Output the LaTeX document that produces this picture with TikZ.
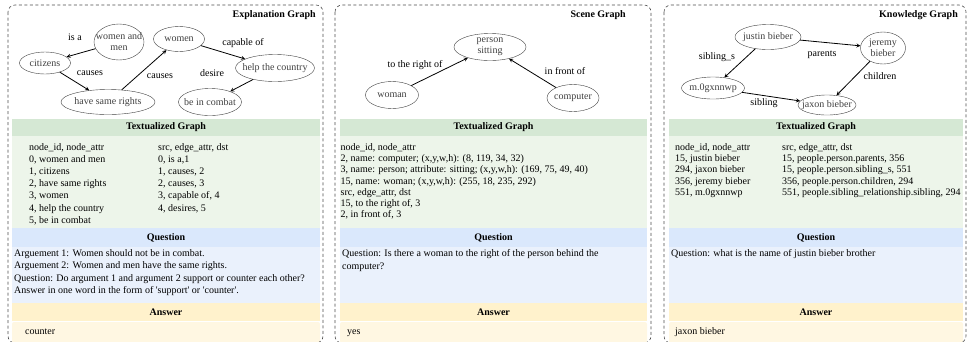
\documentclass[tikz,border=0pt]{standalone}
\usepackage{fontspec}
\setmainfont{Liberation Serif}
\usetikzlibrary{shapes.geometric, arrows, positioning, calc}
\definecolor{hdgreen}{HTML}{D5E8D4}
\definecolor{bdgreen}{HTML}{EDF5EA}
\definecolor{hdblue}{HTML}{DAE8FC}
\definecolor{bdblue}{HTML}{EAF1FC}
\definecolor{hdyellow}{HTML}{FFF2CC}
\definecolor{bdyellow}{HTML}{FFF7E2}
\newcommand{\tbox}[1]{\makebox[0pt]{#1}}
\tikzstyle{entity} = [ellipse, draw=black!75, inner sep=0pt, text=black!75, align=center, font=\fontsize{10}{11}\selectfont]
\tikzstyle{lbl} = [inner sep=0pt, font=\fontsize{10}{12}\selectfont]
\tikzstyle{title} = [anchor=east, inner sep=0pt, font=\bfseries\fontsize{10}{12}\selectfont]
\tikzstyle{band} = [draw=none, inner sep=0pt, font=\bfseries\fontsize{10}{12}\selectfont]
\tikzstyle{panel} = [draw=black!70, dash pattern=on 3pt off 2.5pt, rounded corners=7pt, line width=0.6pt]
\tikzstyle{body} = [anchor=north west, inner sep=0pt, align=left, font=\fontsize{10}{11.2}\selectfont]
\tikzstyle{reply} = [anchor=base west, inner sep=0pt, font=\fontsize{10}{12}\selectfont]
\tikzstyle{arrow} = [thick,->,>=stealth]

\begin{document}
\begin{tikzpicture}[x=1pt, y=-1pt]
\useasboundingbox (0,0) rectangle (969,341);
% Explanation Graph
\node (tg1) [band, fill=hdgreen, minimum width=308, minimum height=17] at (166,127.5) {Textualized Graph};
\node (tb1) [band, fill=bdgreen, minimum width=308, minimum height=92] at (166,182) {};
\node (qh1) [band, fill=hdblue, minimum width=308, minimum height=19] at (166,237.5) {Question};
\node (qb1) [band, fill=bdblue, minimum width=308, minimum height=56] at (166,275) {};
\node (ah1) [band, fill=hdyellow, minimum width=308, minimum height=18] at (166,312) {Answer};
\node (ab1) [band, fill=bdyellow, minimum width=308, minimum height=21, rounded corners=2pt] at (166,332.5) {};
\draw [panel] (8,5) rectangle (323,343);
\node (t1) [title] at (316,15) {Explanation Graph};
\node (wm) [entity, minimum width=50, minimum height=36] at (119,42) {\tbox{women and}\\\tbox{men}};
\node (cit) [entity, minimum width=51, minimum height=22] at (45,63) {\tbox{citizens}};
\node (hsr) [entity, minimum width=94, minimum height=25] at (108,102) {\tbox{have same rights}};
\node (wo) [entity, minimum width=51, minimum height=25] at (179,39) {\tbox{women}};
\node (htc) [entity, minimum width=79, minimum height=27] at (275,68) {\tbox{help the country}};
\node (bic) [entity, minimum width=63, minimum height=27] at (210,102) {\tbox{be in combat}};
\node (l1) [lbl] at (75,37) {is a};
\node (l2) [lbl] at (90,73) {causes};
\node (l3) [lbl] at (160,76) {causes};
\node (l4) [lbl] at (243,43) {capable of};
\node (l5) [lbl] at (212,73) {desire};
\draw [arrow] (wm) -- (cit);
\draw [arrow] (cit) -- (hsr);
\draw [arrow] (hsr) -- (wo);
\draw [arrow] (wo) -- (htc);
\draw [arrow] (htc) -- (bic);
\node (te1l) [body, font=\fontsize{10}{12.1}\selectfont] at (29,143.4) {node\_id, node\_attr\\0, women and men\\1, citizens\\2, have same rights\\3, women\\4, help the country\\5, be in combat};
\node (te1r) [body, font=\fontsize{10}{12.1}\selectfont] at (158,143.4) {src, edge\_attr, dst\\0, is a,1\\1, causes, 2\\2, causes, 3\\3, capable of, 4\\4, desires, 5};
\node (qt1) [body, font=\fontsize{10}{12.3}\selectfont] at (14,249.5) {Arguement 1: Women should not be in combat.\\Arguement 2: Women and men have the same rights.\\Question: Do argument 1 and argument 2 support or counter each other?\\Answer in one word in the form of \textquotesingle support\textquotesingle{} or \textquotesingle counter\textquotesingle.};
\node (an1) [reply] at (25,334.5) {counter};
% Scene Graph
\node (tg2) [band, fill=hdgreen, minimum width=307, minimum height=17] at (493.5,127.5) {Textualized Graph};
\node (tb2) [band, fill=bdgreen, minimum width=307, minimum height=92] at (493.5,182) {};
\node (qh2) [band, fill=hdblue, minimum width=307, minimum height=19] at (493.5,237.5) {Question};
\node (qb2) [band, fill=bdblue, minimum width=307, minimum height=56] at (493.5,275) {};
\node (ah2) [band, fill=hdyellow, minimum width=307, minimum height=18] at (493.5,312) {Answer};
\node (ab2) [band, fill=bdyellow, minimum width=307, minimum height=21, rounded corners=2pt] at (493.5,332.5) {};
\draw [panel] (335,5) rectangle (651,343);
\node (t2) [title] at (626,15) {Scene Graph};
\node (ps) [entity, minimum width=72, minimum height=27] at (490,47) {\tbox{person}\\\tbox{sitting}};
\node (wn) [entity, minimum width=53, minimum height=27] at (392,95) {\tbox{woman}};
\node (cp) [entity, minimum width=52, minimum height=27] at (573,98) {\tbox{computer}};
\node (l6) [lbl] at (415,65) {to the right of};
\node (l7) [lbl] at (565,71) {in front of};
\draw [arrow] (wn) -- (ps);
\draw [arrow] (cp) -- (ps);
\node (te2) [body] at (340.5,143.4) {node\_id, node\_attr\\2, name: computer; (x,y,w,h): (8, 119, 34, 32)\\3, name: person; attribute: sitting; (x,y,w,h): (169, 75, 49, 40)\\15, name: woman; (x,y,w,h): (255, 18, 235, 292)\\src, edge\_attr, dst\\15, to the right of, 3\\2, in front of, 3};
\node (qt2) [body, font=\fontsize{10}{12.3}\selectfont] at (342,249.5) {Question: Is there a woman to the right of the person behind the\\computer?};
\node (an2) [reply] at (347,334.5) {yes};
% Knowledge Graph
\node (tg3) [band, fill=hdgreen, minimum width=294, minimum height=17] at (816,127.5) {Textualized Graph};
\node (tb3) [band, fill=bdgreen, minimum width=294, minimum height=92] at (816,182) {};
\node (qh3) [band, fill=hdblue, minimum width=294, minimum height=19] at (816,237.5) {Question};
\node (qb3) [band, fill=bdblue, minimum width=294, minimum height=56] at (816,275) {};
\node (ah3) [band, fill=hdyellow, minimum width=294, minimum height=18] at (816,312) {Answer};
\node (ab3) [band, fill=bdyellow, minimum width=294, minimum height=21, rounded corners=2pt] at (816,332.5) {};
\draw [panel] (664,5) rectangle (966,343);
\node (t3) [title] at (958,15) {Knowledge Graph};
\node (jb) [entity, minimum width=66, minimum height=25] at (768,37) {\tbox{justin bieber}};
\node (jr) [entity, minimum width=45, minimum height=32] at (883,48) {\tbox{jeremy}\\\tbox{bieber}};
\node (mg) [entity, minimum width=63, minimum height=22] at (713,88) {\tbox{m.0gxnnwp}};
\node (jx) [entity, minimum width=58, minimum height=20] at (827,105) {\tbox{jaxon bieber}};
\node (l8) [lbl] at (717,57) {sibling\_s};
\node (l9) [lbl] at (822,55) {parents};
\node (l10) [lbl] at (880,76) {children};
\node (l11) [lbl] at (764,103) {sibling};
\draw [arrow] (jb) -- (jr);
\draw [arrow] (jb) -- (mg);
\draw [arrow] (jr) -- (jx);
\draw [arrow] (mg) -- (jx);
\node (te3l) [body] at (675,143.4) {node\_id, node\_attr\\15, justin bieber\\294, jaxon bieber\\356, jeremy bieber\\551, m.0gxnnwp};
\node (te3r) [body] at (782,143.4) {src, edge\_attr, dst\\15, people.person.parents, 356\\15, people.person.sibling\_s, 551\\356, people.person.children, 294\\551, people.sibling\_relationship.sibling, 294};
\node (qt3) [body, font=\fontsize{10}{12.3}\selectfont] at (671,249.5) {Question: what is the name of justin bieber brother};
\node (an3) [reply] at (675,334.5) {jaxon bieber};
\end{tikzpicture}
\end{document}
